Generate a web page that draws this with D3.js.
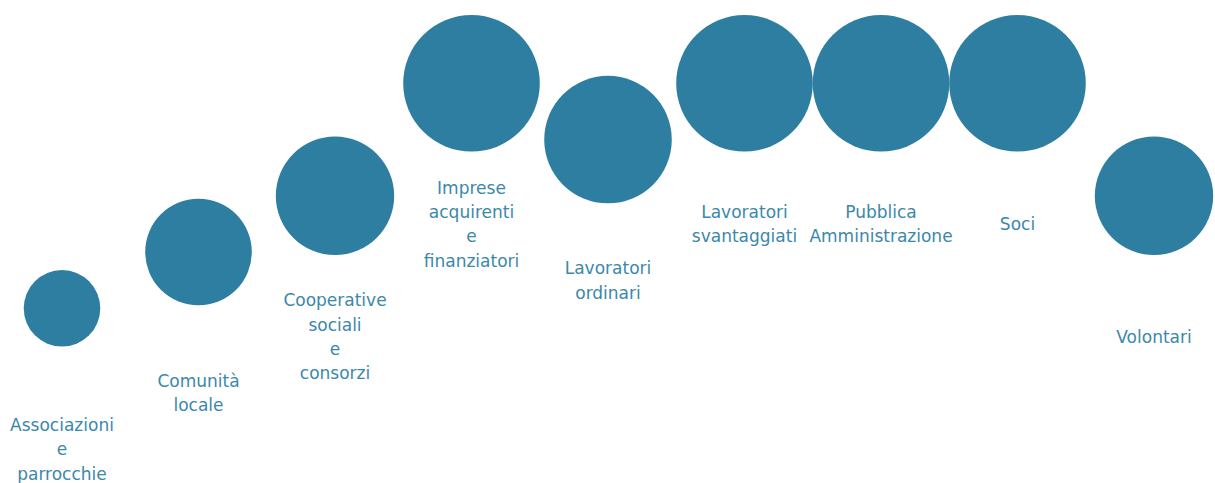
<!DOCTYPE html>
<html>
<head>
<meta charset="utf-8">
<script src="https://cdn.jsdelivr.net/npm/d3@7"></script>
<style>
  html, body { margin: 0; padding: 0; background: #ffffff; }
  svg { display: block; }
</style>
</head>
<body>
<svg id="chart" width="1215" height="483"></svg>
<script>
// ---- data ----
const categories = [
  "Associazioni e parrocchie",
  "Comunità locale",
  "Cooperative sociali e consorzi",
  "Imprese acquirenti e finanziatori",
  "Lavoratori ordinari",
  "Lavoratori svantaggiati",
  "Pubblica Amministrazione",
  "Soci",
  "Volontari"
];
// importance level (vertical position)
const levels = [1, 2, 3, 5, 4, 5, 5, 5, 3];
// bubble size value (area-proportional)
const sizes = [31.4, 60.9, 75.1, 100, 87.2, 100, 100, 100, 75.1];

// ---- layout ----
const W = 1215, H = 483;
const svg = d3.select("#chart");
const circleColor = "#2e7ea1";
const textColor = "#3b88aa";

const x = d3.scalePoint().domain(categories).range([62, 1154]);
const y = d3.scaleLinear().domain([1, 5]).range([308.3, 83.3]);
const r = d3.scaleSqrt().domain([0, 100]).range([0, 68.3]);

const data = categories.map((c, i) => ({ name: c, level: levels[i], size: sizes[i] }));

const g = svg.selectAll("g.node").data(data).join("g").attr("class", "node");

g.append("circle")
  .attr("cx", d => x(d.name))
  .attr("cy", d => y(d.level))
  .attr("r", d => r(d.size))
  .attr("fill", circleColor);

const lineH = 24.3;
g.each(function(d) {
  const words = d.name.split(" ");
  const n = words.length;
  const t = d3.select(this).append("text")
    .attr("text-anchor", "middle")
    .attr("font-family", "'DejaVu Sans', sans-serif")
    .attr("font-size", 17)
    .attr("fill", textColor);
  words.forEach((w, i) => {
    t.append("tspan")
      .attr("x", x(d.name))
      .attr("y", y(d.level) + 147 + (i - (n - 1) / 2) * lineH)
      .text(w);
  });
});
</script>
</body>
</html>
